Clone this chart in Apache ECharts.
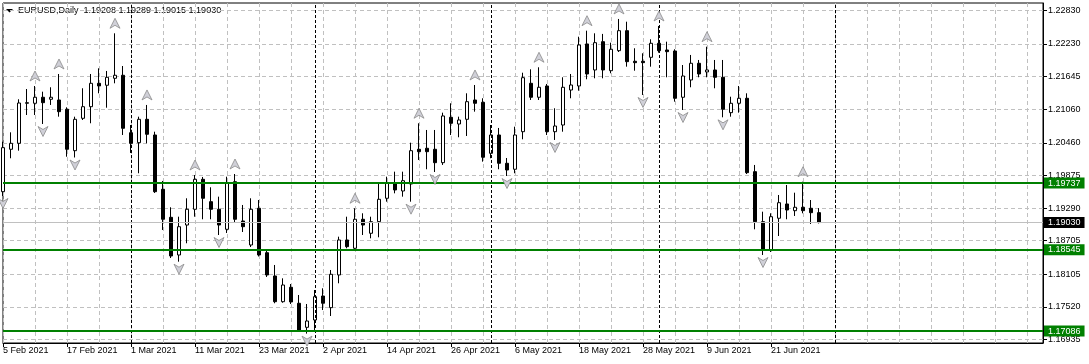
<!DOCTYPE html>
<html><head><meta charset="utf-8">
<script src="https://cdn.jsdelivr.net/npm/echarts@6/dist/echarts.min.js"></script>
<style>html,body{margin:0;padding:0;background:#fff}#c{width:1089px;height:364px}</style>
</head><body><div id="c"></div><script>
const symbolName = 'EURUSD,Daily';
const firstDate = [2021, 1, 5];
const slotCount = 131;
const monthNames = ['Jan','Feb','Mar','Apr','May','Jun','Jul','Aug','Sep','Oct','Nov','Dec'];

const open = [1.19583,1.20343,1.20450,1.21167,1.21167,1.21275,1.21239,1.21226,1.21060,1.20318,
 1.20898,1.21106,1.21525,1.21490,1.21615,1.21669,1.20640,1.20461,1.20880,1.20599,
 1.19626,1.19124,1.18449,1.18986,1.19268,1.19805,1.19404,1.19268,1.18909,1.19762,
 1.19058,1.18628,1.19286,1.18490,1.18073,1.17612,1.17870,1.17584,1.17153,1.17284,
 1.17714,1.17505,1.18091,1.18718,1.18569,1.19089,1.18838,1.19046,1.19465,1.19744,
 1.19596,1.19721,1.20343,1.20361,1.20343,1.20103,1.20916,1.20796,1.20880,1.21226,
 1.21185,1.20271,1.20599,1.20092,1.19985,1.20658,1.21525,1.21275,1.21477,1.20658,
 1.20778,1.21405,1.21477,1.22230,1.21764,1.22271,1.21751,1.22110,1.22468,1.21920,
 1.21920,1.21991,1.22242,1.22122,1.22104,1.21275,1.21585,1.21884,1.21728,1.21764,
 1.21633,1.20999,1.21167,1.21257,1.19942,1.19046,1.18539,1.19107,1.19363,1.19243,
 1.19304,1.19286,1.19208];
const high = [1.20479,1.20647,1.21239,1.21423,1.21477,1.21375,1.21454,1.21692,1.21095,1.20927,
 1.21436,1.21692,1.21794,1.21746,1.22421,1.21835,1.20778,1.20927,1.21137,1.20658,
 1.19775,1.19304,1.19135,1.19465,1.19882,1.19847,1.19662,1.19494,1.19852,1.19900,
 1.19345,1.19465,1.19434,1.18539,1.18270,1.18031,1.17929,1.17732,1.17571,1.17822,
 1.17852,1.18180,1.18777,1.19135,1.19286,1.19196,1.19135,1.19721,1.19852,1.19942,
 1.19942,1.20461,1.20809,1.20689,1.20689,1.20999,1.21167,1.20927,1.21346,1.21495,
 1.21257,1.20778,1.20725,1.20187,1.20748,1.21715,1.21776,1.21812,1.21513,1.21078,
 1.21633,1.21692,1.22360,1.22468,1.22421,1.22410,1.22253,1.22678,1.22629,1.22153,
 1.22063,1.22314,1.22552,1.22271,1.22135,1.21853,1.22033,1.21943,1.22181,1.21943,
 1.21943,1.21285,1.21477,1.21346,1.20062,1.19225,1.19196,1.19524,1.19703,1.19565,
 1.19762,1.19434,1.19289];
const low = [1.19506,1.20182,1.20318,1.20957,1.20957,1.20796,1.21137,1.20927,1.20210,1.20196,
 1.20868,1.20809,1.21346,1.21088,1.21525,1.20599,1.20277,1.19913,1.20450,1.19560,
 1.18897,1.18395,1.18329,1.18659,1.19135,1.19089,1.19089,1.18807,1.18843,1.19040,
 1.18861,1.18592,1.18422,1.18055,1.17584,1.17594,1.17571,1.17075,1.17040,1.17105,
 1.17463,1.17356,1.17942,1.18569,1.18539,1.18807,1.18748,1.18766,1.19404,1.19554,
 1.19494,1.19404,1.20151,1.19985,1.19936,1.20062,1.20599,1.20558,1.20581,1.21017,
 1.20121,1.20182,1.19985,1.19864,1.19913,1.20522,1.21226,1.21226,1.20599,1.20510,
 1.20658,1.21257,1.21393,1.21597,1.21615,1.21615,1.21705,1.22086,1.21823,1.21751,
 1.21316,1.21823,1.22074,1.21633,1.21196,1.21047,1.21454,1.21633,1.21633,1.21436,
 1.20916,1.20927,1.20999,1.19900,1.18909,1.18449,1.18503,1.18789,1.19089,1.19148,
 1.19196,1.19004,1.19015];
const close = [1.20372,1.20450,1.21172,1.21178,1.21275,1.21178,1.21275,1.21017,1.20343,1.20880,
 1.21106,1.21525,1.21477,1.21633,1.21669,1.20719,1.20450,1.20880,1.20612,1.19583,
 1.19089,1.18431,1.18956,1.19268,1.19805,1.19465,1.19268,1.18986,1.19744,1.19089,
 1.18956,1.19268,1.18449,1.18091,1.17612,1.17911,1.17607,1.17105,1.17266,1.17702,
 1.17584,1.18103,1.18718,1.18598,1.19089,1.18986,1.19046,1.19447,1.19744,1.19614,
 1.19780,1.20318,1.20300,1.20300,1.20103,1.20940,1.20809,1.20868,1.21196,1.21167,
 1.20200,1.20599,1.20092,1.19972,1.20599,1.21626,1.21275,1.21454,1.20658,1.20760,
 1.21454,1.21495,1.22212,1.21692,1.22253,1.21764,1.22135,1.22468,1.21913,1.21895,
 1.21895,1.22242,1.22110,1.22092,1.21257,1.21656,1.21884,1.21692,1.21764,1.21633,
 1.21060,1.21167,1.21257,1.19924,1.19046,1.18539,1.19135,1.19386,1.19255,1.19304,
 1.19243,1.19207,1.19030];

const upFractals = [4,7,14,18,24,29,44,52,59,67,73,77,82,88,100];
const downFractals = [0,5,9,22,27,38,51,54,63,69,80,85,90,95];
const levels = [1.19737, 1.18545, 1.17086];
const currentPrice = 1.19030;
const yTicks = [1.16935,1.17520,1.18105,1.18705,1.19290,1.19875,1.20460,1.21060,1.21645,1.22230,1.22830];
const separators = [16,39,61,82,104];

// categories: trading days (weekdays) from the first date
const categories = [];
{
  const d = new Date(Date.UTC(firstDate[0], firstDate[1], firstDate[2]));
  while (categories.length < slotCount) {
    const wd = d.getUTCDay();
    if (wd > 0 && wd < 6) categories.push(d.getUTCDate() + ' ' + monthNames[d.getUTCMonth()] + ' ' + d.getUTCFullYear());
    d.setUTCDate(d.getUTCDate() + 1);
  }
}
const nBars = open.length;
const last = nBars - 1;
const candleData = open.map((o, i) => [o, close[i], low[i], high[i]]);
const FONT = 'Liberation Sans, Arial, sans-serif';

const chart = echarts.init(document.getElementById('c'), null, {renderer: 'canvas'});
const labelShown = (idx) => idx % 8 === 0 && idx < nBars;
const priceLabel = (bg) => ({show: true, position: 'end', distance: 1,
  formatter: (p) => Number(p.value).toFixed(5),
  backgroundColor: bg, color: '#fff', padding: [1, 4, 1, 4], fontSize: 9, fontFamily: FONT});

chart.setOption({
  animation: false,
  backgroundColor: '#ffffff',
  grid: {left: 3, right: 46, top: 3, bottom: 21, show: true, borderColor: '#000', borderWidth: 1, backgroundColor: 'transparent'},
  xAxis: {
    type: 'category', data: categories, boundaryGap: false,
    axisLine: {show: true, lineStyle: {color: '#000', width: 1}},
    axisTick: {show: true, length: 4, interval: (i) => labelShown(i), lineStyle: {color: '#000'}},
    axisLabel: {show: true, interval: (i) => labelShown(i), align: 'left', margin: 3,
      fontSize: 9, fontFamily: FONT, color: '#000'},
    splitLine: {show: true, interval: (i) => i % 4 === 0, lineStyle: {color: '#c0c0c0', width: 1, type: [4, 3]}}
  },
  yAxis: {
    type: 'value', position: 'right', min: 1.16872, max: 1.22964, scale: true,
    axisLine: {show: true, lineStyle: {color: '#000', width: 1}},
    axisTick: {show: true, length: 4, customValues: yTicks, lineStyle: {color: '#000'}},
    axisLabel: {show: true, customValues: yTicks, margin: 5, fontSize: 9, fontFamily: FONT, color: '#000',
      formatter: (v) => Number(v).toFixed(5)},
    splitLine: {show: true, lineStyle: {color: '#c0c0c0', width: 1, type: [4, 3]}}
  },
  graphic: [
    {type: 'polygon', shape: {points: [[6, 9], [13, 9], [9.5, 12.5]]}, style: {fill: '#000'}, silent: true},
    {type: 'text', x: 18, y: 10.5, silent: true, style: {
      text: symbolName + '  ' + [open[last], high[last], low[last], close[last]].map(v => v.toFixed(5)).join(' '),
      font: '9px ' + FONT, fill: '#000', verticalAlign: 'middle', align: 'left'}}
  ],
  series: [
    {
      type: 'candlestick', data: candleData, barWidth: 4,
      itemStyle: {color: '#ffffff', color0: '#000000', borderColor: '#000000', borderColor0: '#000000', borderWidth: 1},
      markLine: {
        silent: true, symbol: 'none', animation: false, precision: 5,
        data: [
          ...separators.map(i => ({xAxis: categories[i], lineStyle: {color: '#000', width: 1, type: [3, 2]}, label: {show: false}})),
          {yAxis: currentPrice, lineStyle: {color: '#c0c0c0', width: 1, type: 'solid'}, label: priceLabel('#000')},
          ...levels.map(v => ({yAxis: v, lineStyle: {color: '#008000', width: 2, type: 'solid'}, label: priceLabel('#008000')}))
        ]
      }
    },
    {
      type: 'scatter', z: 5, silent: true,
      data: upFractals.map(i => [categories[i], high[i]]),
      symbol: 'path://M5,0 L10,10 L5,7 L0,10 Z', symbolSize: [10, 10], symbolOffset: [0, -10],
      itemStyle: {color: '#d0d0d8', borderColor: '#8a8a8a', borderWidth: 0.8, opacity: 1}
    },
    {
      type: 'scatter', z: 5, silent: true,
      data: downFractals.map(i => [categories[i], low[i]]),
      symbol: 'path://M0,0 L5,3 L10,0 L5,10 Z', symbolSize: [10, 10], symbolOffset: [0, 7.5],
      itemStyle: {color: '#d0d0d8', borderColor: '#8a8a8a', borderWidth: 0.8, opacity: 1}
    }
  ]
});
</script></body></html>
